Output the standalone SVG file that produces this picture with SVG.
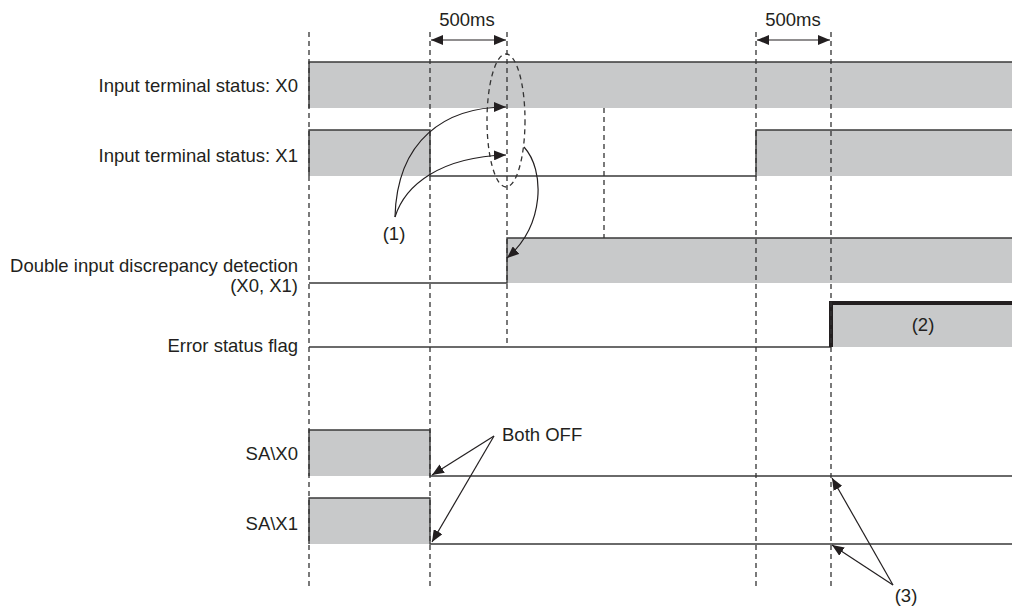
<svg xmlns="http://www.w3.org/2000/svg" width="1012" height="606" viewBox="0 0 1012 606">
<defs>
<style>
.bg{fill:#ffffff}
.hi{fill:#c8c9ca;stroke:none}
.sig{fill:none;stroke:#3a3a3a;stroke-width:1.4}
.thick{fill:none;stroke:#231f20;stroke-width:4}
.dash{fill:none;stroke:#333333;stroke-width:1.3;stroke-dasharray:5 4}
.con{fill:none;stroke:#231f20;stroke-width:1.2}
.lbl{font-family:"Liberation Sans",Arial,sans-serif;font-size:18.5px;fill:#231f20}
.end{text-anchor:end}
.mid{text-anchor:middle}
</style>
<marker id="ah" viewBox="0 0 12 10" refX="12" refY="5" markerWidth="12" markerHeight="10" markerUnits="userSpaceOnUse" orient="auto-start-reverse">
<path d="M0,0 L12,5 L0,10 z" fill="#231f20"/>
</marker>
</defs>
<rect class="bg" x="0" y="0" width="1012" height="606"/>

<g id="x0">
<rect class="hi" x="309" y="62" width="703" height="46"/>
<path class="sig" d="M309,108 V62 H1012"/>
<text class="lbl end" x="298" y="92">Input terminal status: X0</text>
</g>

<g id="x1">
<rect class="hi" x="309" y="130" width="121" height="46"/>
<rect class="hi" x="756" y="130" width="256" height="46"/>
<path class="sig" d="M309,176 V130 H430 V176 H756 V130 H1012"/>
<text class="lbl end" x="298" y="162">Input terminal status: X1</text>
</g>

<g id="discrepancy">
<rect class="hi" x="507" y="238" width="505" height="45"/>
<path class="sig" d="M309,283 H507 V238 H1012"/>
<text class="lbl end" x="298" y="272">Double input discrepancy detection</text>
<text class="lbl end" x="298" y="292">(X0, X1)</text>
</g>

<g id="errflag">
<rect class="hi" x="831" y="303" width="181" height="44"/>
<path class="sig" d="M309,347 H831"/>
<path class="thick" d="M831,347 V303 H1012"/>
<text class="lbl end" x="298" y="352">Error status flag</text>
<text class="lbl mid" x="923" y="331">(2)</text>
</g>

<g id="sax0">
<rect class="hi" x="309" y="430" width="121" height="46"/>
<path class="sig" d="M309,476 V430 H430 V476 H1012"/>
<text class="lbl end" x="298" y="460">SA\X0</text>
</g>

<g id="sax1">
<rect class="hi" x="309" y="498" width="121" height="46"/>
<path class="sig" d="M309,544 V498 H430 V544 H1012"/>
<text class="lbl end" x="298" y="530">SA\X1</text>
</g>

<g id="timing-guides">
<line class="dash" x1="309" y1="32" x2="309" y2="590"/>
<line class="dash" x1="430" y1="32" x2="430" y2="590"/>
<line class="dash" x1="507" y1="32" x2="507" y2="347"/>
<line class="dash" x1="604" y1="108" x2="604" y2="238"/>
<line class="dash" x1="756" y1="32" x2="756" y2="590"/>
<line class="dash" x1="831" y1="32" x2="831" y2="590"/>
<ellipse class="dash" cx="506" cy="120.5" rx="19" ry="66.5"/>
</g>

<g id="connectors">
<line class="con" x1="431" y1="40" x2="506" y2="40" marker-start="url(#ah)" marker-end="url(#ah)"/>
<text class="lbl mid" x="467" y="26">500ms</text>
<line class="con" x1="757" y1="40" x2="830" y2="40" marker-start="url(#ah)" marker-end="url(#ah)"/>
<text class="lbl mid" x="793" y="26">500ms</text>

<path class="con" d="M395,217 C397,140 445,107 506,107" marker-end="url(#ah)"/>
<path class="con" d="M395,217 C405,185 440,157 506,155" marker-end="url(#ah)"/>
<path class="con" d="M524,147 C545,170 545,225 507,258" marker-end="url(#ah)"/>
<text class="lbl mid" x="394" y="240">(1)</text>

<line class="con" x1="494" y1="436" x2="432" y2="475" marker-end="url(#ah)"/>
<line class="con" x1="494" y1="436" x2="432" y2="542" marker-end="url(#ah)"/>
<text class="lbl" x="502" y="441">Both OFF</text>

<line class="con" x1="893" y1="585" x2="832" y2="478" marker-end="url(#ah)"/>
<line class="con" x1="893" y1="585" x2="832" y2="545" marker-end="url(#ah)"/>
<text class="lbl mid" x="906" y="602">(3)</text>
</g>
</svg>
